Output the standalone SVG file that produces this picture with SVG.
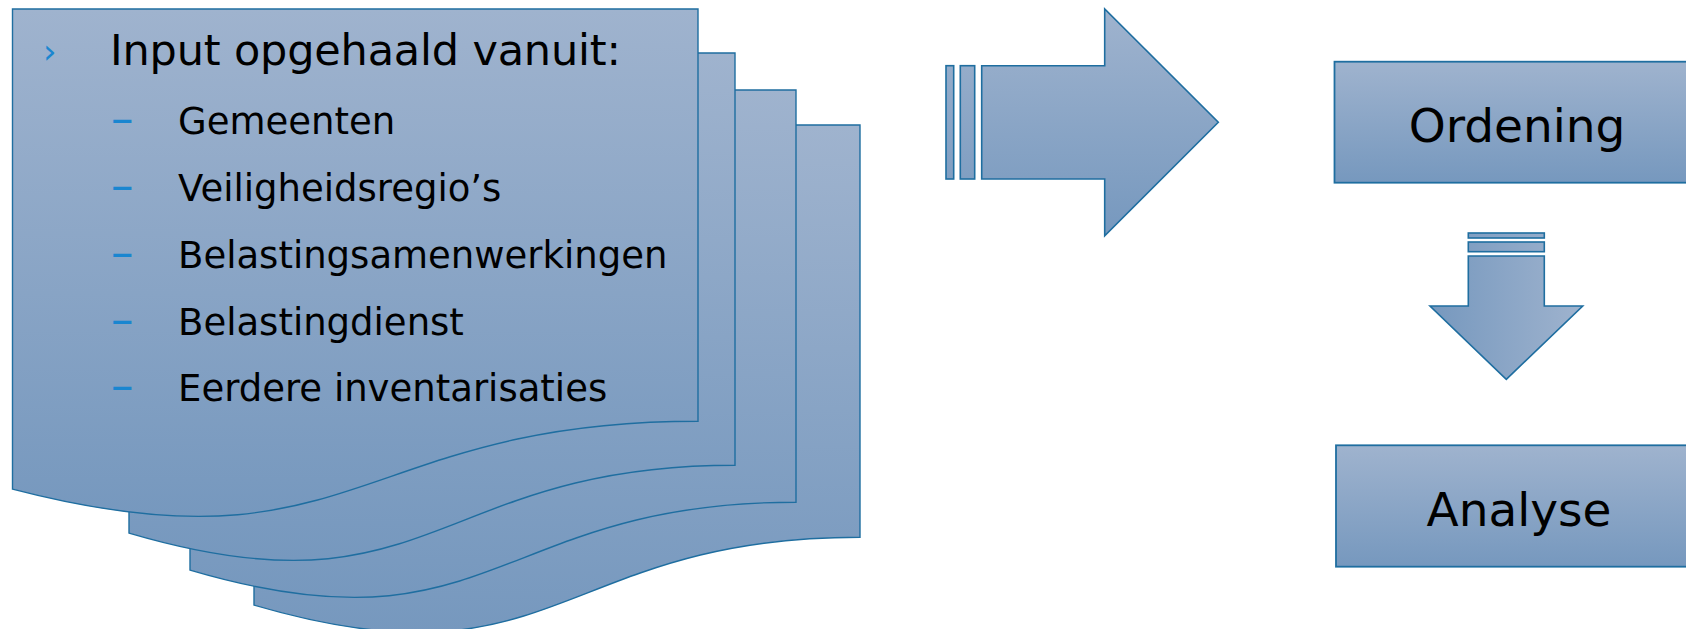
<svg xmlns="http://www.w3.org/2000/svg" width="1686" height="629" viewBox="0 0 1686 629">
<defs>
<linearGradient id="gv" x1="0" y1="0" x2="0" y2="1">
<stop offset="0" stop-color="#9FB3CE"/>
<stop offset="1" stop-color="#7698BE"/>
</linearGradient>
<linearGradient id="garrow" gradientUnits="userSpaceOnUse" x1="0" y1="9" x2="0" y2="236">
<stop offset="0" stop-color="#9FB3CE"/>
<stop offset="1" stop-color="#7698BE"/>
</linearGradient>
<linearGradient id="gdown" gradientUnits="userSpaceOnUse" x1="1430" y1="0" x2="1583" y2="0">
<stop offset="0" stop-color="#7698BE"/>
<stop offset="1" stop-color="#9FB3CE"/>
</linearGradient>
<style>
.doc{fill:url(#gv);stroke:#1F6EA0;stroke-width:1.4}
.box{fill:url(#gv);stroke:#1F6EA0;stroke-width:1.8}
.arr{fill:url(#garrow);stroke:#1F6EA0;stroke-width:1.6}
.darr{fill:url(#gdown);stroke:#1F6EA0;stroke-width:1.6}
.t{font-family:"DejaVu Sans","Verdana",sans-serif;fill:#000}
.b{font-family:"DejaVu Sans","Verdana",sans-serif;fill:#1A86D0}
.d{font-family:"DejaVu Sans","Verdana",sans-serif;fill:#1A86D0;font-size:45px}
</style>
</defs>

<g id="doc4"><path class="doc" d="M254,125 H860 V537.2 C557,537.2 557,694.3 254,605.1 Z"/></g>
<g id="doc3"><path class="doc" d="M190,90 H796 V502.2 C493,502.2 493,659.3 190,570.1 Z"/></g>
<g id="doc2"><path class="doc" d="M129,53 H735 V465.2 C432,465.2 432,622.3 129,533.1 Z"/></g>
<g id="doc1">
<path class="doc" d="M12.5,9 H698 V421.2 C355.25,421.2 355.25,578.3 12.5,489.1 Z"/>
<text class="b" x="43" y="63" font-size="34">›</text>
<text class="t" x="110" y="65" font-size="43" textLength="511">Input opgehaald vanuit:</text>
<text class="d" x="111" y="134.3">–</text>
<text class="t" x="178" y="134.3" font-size="37">Gemeenten</text>
<text class="d" x="111" y="201">–</text>
<text class="t" x="178" y="201" font-size="37">Veiligheidsregio’s</text>
<text class="d" x="111" y="268.3">–</text>
<text class="t" x="178" y="268.3" font-size="37">Belastingsamenwerkingen</text>
<text class="d" x="111" y="335">–</text>
<text class="t" x="178" y="335" font-size="37">Belastingdienst</text>
<text class="d" x="111" y="401">–</text>
<text class="t" x="178" y="401" font-size="37">Eerdere inventarisaties</text>
</g>

<g id="ordening">
<rect class="box" x="1334.5" y="61.7" width="370" height="121"/>
<text class="t" x="1517" y="141.7" font-size="47" text-anchor="middle">Ordening</text>
</g>
<g id="analyse">
<rect class="box" x="1336" y="445.3" width="370" height="121.4"/>
<text class="t" x="1519" y="526" font-size="47" text-anchor="middle">Analyse</text>
</g>

<g id="connectors">
<g id="arrow-right">
<rect class="arr" x="946" y="65.7" width="7.7" height="113.3"/>
<rect class="arr" x="960.3" y="65.7" width="14.4" height="113.3"/>
<path class="arr" d="M981.7,65.7 H1104.7 V9 L1218.3,122.3 L1104.7,235.7 V179 H981.7 Z"/>
</g>
<g id="arrow-down">
<rect class="darr" x="1468.3" y="233" width="76" height="5"/>
<rect class="darr" x="1468.3" y="242" width="76" height="9.7"/>
<path class="darr" d="M1468.3,256 V306 H1430 L1506.3,379.3 L1582.7,306 H1544.3 V256 Z"/>
</g>
</g>
</svg>
